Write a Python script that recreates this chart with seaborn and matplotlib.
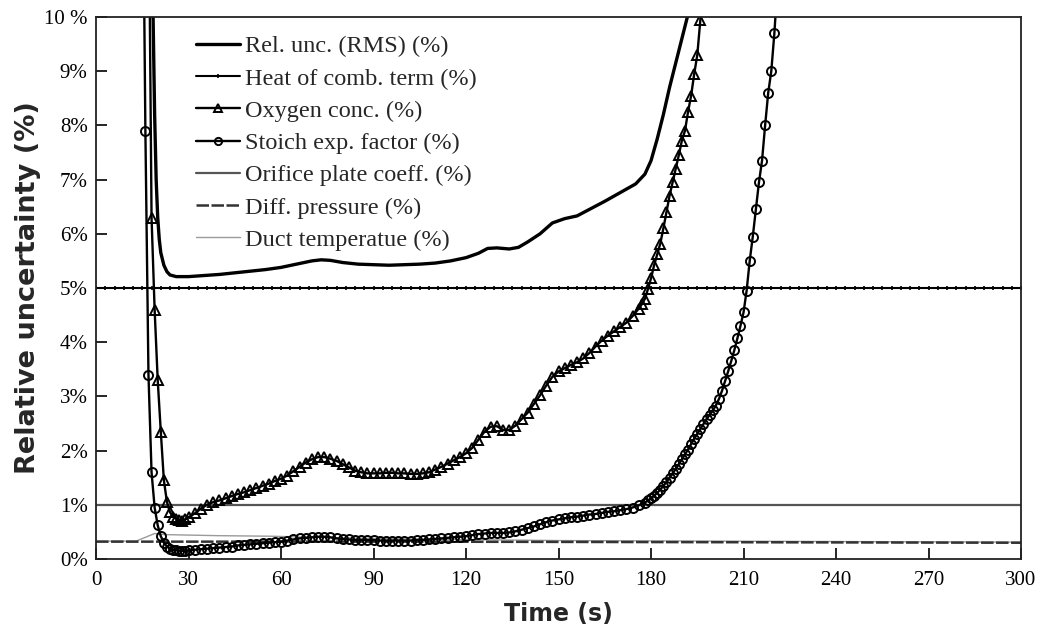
import numpy as np
import pandas as pd
import matplotlib
matplotlib.use("Agg")
import matplotlib.pyplot as plt
import seaborn as sns

# ---------------- data ----------------
rel_time = [17.5, 18.5, 19.0, 19.5, 20.0, 20.5, 21.0, 22.0, 23.0, 24.0, 26.0, 30.0, 35.0,
            40.0, 45.0, 50.0, 55.0, 60.0, 65.0, 70.0, 73.0, 76.0, 80.0, 85.0, 90.0, 95.0,
            100.0, 105.0, 110.0, 115.0, 120.0, 124.0, 127.0, 130.0, 134.0, 137.0, 140.0,
            144.0, 148.0, 152.0, 156.0, 160.0, 165.0, 170.0, 175.0, 178.0, 180.0, 182.0,
            184.0, 186.0, 188.0, 190.0, 192.0, 193.0]
rel_value = [14.0, 10.0, 8.2, 7.0, 6.3, 5.9, 5.65, 5.42, 5.3, 5.24, 5.21, 5.21, 5.23,
             5.25, 5.28, 5.31, 5.34, 5.38, 5.44, 5.5, 5.52, 5.51, 5.47, 5.44, 5.43, 5.42,
             5.43, 5.44, 5.46, 5.5, 5.56, 5.64, 5.73, 5.74, 5.72, 5.75, 5.85,
             6.0, 6.2, 6.28, 6.33, 6.45, 6.6, 6.76, 6.92, 7.1, 7.35, 7.75,
             8.2, 8.7, 9.15, 9.6, 10.05, 10.5]

heat_comb_level = 5.0
heat_time = list(range(0, 301, 3))

o2_time = list(range(17, 30)) + list(range(30, 177, 2)) + list(range(177, 198))
o2_value = [13.0, 6.3, 4.6, 3.3, 2.35, 1.45, 1.05, 0.86, 0.78, 0.74, 0.72, 0.71, 0.73,
            0.77, 0.84, 0.93, 1.0, 1.05, 1.08, 1.12, 1.16, 1.2, 1.23,
            1.27, 1.31, 1.35, 1.39, 1.44, 1.48, 1.54, 1.62, 1.7, 1.78,
            1.84, 1.88, 1.88, 1.85, 1.81, 1.75, 1.69, 1.63, 1.6, 1.58,
            1.58, 1.58, 1.59, 1.59, 1.58, 1.58, 1.57, 1.57, 1.58, 1.6,
            1.65, 1.7, 1.76, 1.82, 1.88, 1.95, 2.05, 2.2, 2.35, 2.44,
            2.45, 2.38, 2.38, 2.46, 2.58, 2.7, 2.86, 3.02, 3.2, 3.36,
            3.46, 3.52, 3.58, 3.63, 3.7, 3.8, 3.92, 4.03, 4.12, 4.2,
            4.28, 4.36, 4.48, 4.62,
            4.7, 4.8, 4.98, 5.18, 5.42, 5.62, 5.82, 6.1, 6.4, 6.7, 6.95,
            7.2, 7.45, 7.72, 7.9, 8.25, 8.55, 8.95, 9.3, 9.95, 10.6]

stoich_time = list(range(15, 30)) + list(range(30, 179, 2)) + list(range(179, 222))
stoich_value = [14.0, 7.9, 3.4, 1.6, 0.95, 0.62, 0.42, 0.3, 0.23, 0.19, 0.17, 0.16, 0.15, 0.15, 0.15,
                0.16, 0.17, 0.18, 0.19, 0.2, 0.21, 0.22, 0.23, 0.25, 0.26,
                0.27, 0.28, 0.29, 0.3, 0.31, 0.32, 0.34, 0.36, 0.38, 0.39,
                0.4, 0.41, 0.41, 0.4, 0.38, 0.37, 0.36, 0.35, 0.35, 0.35,
                0.35, 0.34, 0.34, 0.34, 0.34, 0.34, 0.34, 0.35, 0.35, 0.36,
                0.37, 0.38, 0.39, 0.4, 0.41, 0.42, 0.44, 0.46, 0.47, 0.48,
                0.48, 0.48, 0.49, 0.51, 0.54, 0.57, 0.6, 0.64, 0.68, 0.71,
                0.73, 0.75, 0.77, 0.78, 0.8, 0.82, 0.83, 0.85, 0.87, 0.88,
                0.9, 0.92, 0.95, 0.99, 1.04,
                1.08, 1.12, 1.17, 1.22, 1.28, 1.35, 1.42, 1.5, 1.58, 1.66,
                1.75, 1.84, 1.93, 2.02, 2.12, 2.22, 2.31, 2.4, 2.49, 2.58,
                2.66, 2.74, 2.83, 2.95, 3.1, 3.28, 3.46, 3.65, 3.85, 4.07,
                4.3, 4.55, 4.95, 5.5, 5.95, 6.45, 6.95, 7.35, 8.0, 8.6,
                9.0, 9.7, 10.6]

orifice_time = [0, 300]
orifice_value = [1.0, 1.0]

diff_time = [0, 100, 200, 300]
diff_value = [0.32, 0.32, 0.31, 0.30]

duct_time = [0, 13, 16, 19, 22, 40, 57, 70, 100, 150, 200, 250, 300]
duct_value = [0.33, 0.33, 0.40, 0.47, 0.45, 0.43, 0.42, 0.40, 0.37, 0.34, 0.33, 0.32, 0.31]

labels = ["Rel. unc. (RMS) (%)", "Heat of comb. term (%)", "Oxygen conc. (%)",
          "Stoich exp. factor (%)", "Orifice plate coeff. (%)", "Diff. pressure (%)",
          "Duct temperatue (%)"]
x_ticks = [0, 30, 60, 90, 120, 150, 180, 210, 240, 270, 300]
y_ticks = [0, 1, 2, 3, 4, 5, 6, 7, 8, 9, 10]
y_ticklabels = ["0%", "1%", "2%", "3%", "4%", "5%", "6%", "7%", "8%", "9%", "10 %"]

# ---------------- plot ----------------
sns.set_style("ticks")
plt.rcParams['font.family'] = ['Liberation Serif', 'DejaVu Serif']

fig = plt.figure(figsize=(10.44, 6.44), dpi=100)
ax = fig.add_axes([0.092, 0.132, 0.886, 0.8416])

heat_value = [heat_comb_level] * len(heat_time)

sns.lineplot(x=duct_time, y=duct_value, ax=ax, color="#9a9a9a", lw=1.0, label=labels[6])
sns.lineplot(x=diff_time, y=diff_value, ax=ax, color="#333333", lw=1.8,
             linestyle=(0, (5, 1)), label=labels[5])
sns.lineplot(x=orifice_time, y=orifice_value, ax=ax, color="#555555", lw=1.6, label=labels[4])
sns.lineplot(x=heat_time, y=heat_value, ax=ax, color="black", lw=1.5, marker="+",
             markersize=3.5, markeredgewidth=1.2, markeredgecolor="black", label=labels[1])
sns.lineplot(x=stoich_time, y=stoich_value, ax=ax, color="black", lw=1.7, marker="o",
             markersize=6.5, markerfacecolor="none", markeredgecolor="black",
             markeredgewidth=1.4, label=labels[3])
sns.lineplot(x=o2_time, y=o2_value, ax=ax, color="black", lw=1.7, marker="^",
             markersize=7, markerfacecolor="none", markeredgecolor="black",
             markeredgewidth=1.4, label=labels[2])
sns.lineplot(x=rel_time, y=rel_value, ax=ax, color="black", lw=2.4, label=labels[0])

ax.set_xlim(0, 300)
ax.set_ylim(0, 10)
ax.set_xticks(x_ticks)
ax.set_xticklabels([str(v) for v in x_ticks])
ax.set_yticks(y_ticks)
ax.set_yticklabels(y_ticklabels)
ax.tick_params(axis="both", direction="in", length=8, width=1.2, labelsize=15,
               colors="black")
ax.tick_params(axis="x", pad=9)
ax.tick_params(axis="y", pad=6)
for s in ax.spines.values():
    s.set_visible(True)
    s.set_linewidth(1.3)
    s.set_color("#222222")

ax.set_xlabel("Time (s)", fontsize=17, fontweight="bold", family="DejaVu Sans", labelpad=8)
ax.set_ylabel("Relative uncertainty (%)", fontsize=19.5, fontweight="bold",
              family="DejaVu Sans")
ax.yaxis.set_label_coords(-0.06, 0.5)

handles, labs = ax.get_legend_handles_labels()
order = [labs.index(l) for l in labels]
ax.legend([handles[i] for i in order], [labs[i] for i in order],
          loc="upper left", bbox_to_anchor=(0.098, 0.984), frameon=False,
          fontsize=17.5, handlelength=1.8, handletextpad=0.2, labelspacing=0.42,
          borderaxespad=0.0, markerscale=0.8)

fig.savefig("out.png", dpi=100)
